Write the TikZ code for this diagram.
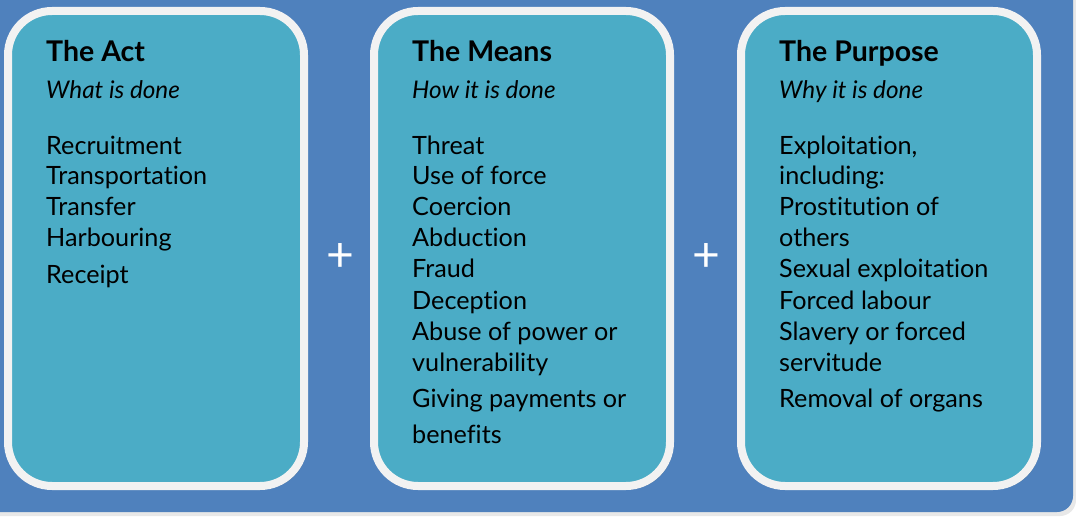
\documentclass[tikz,border=0pt]{standalone}
\usepackage{fontspec}
\setmainfont{Lato}[Ligatures=NoCommon]
\definecolor{bgblue}{HTML}{4F81BD}
\definecolor{teal}{HTML}{4BACC6}
\definecolor{rim}{HTML}{F2F2F2}
\definecolor{shade}{HTML}{3B6894}
\definecolor{paper}{HTML}{E8E8E8}
\tikzset{
  card/.style={fill=teal, draw=rim, line width=8pt, rounded corners=44pt},
  cardshadow/.style={fill=shade, rounded corners=44pt},
  ttl/.style={anchor=base west, inner sep=0pt, font=\fontsize{28.5}{32}\selectfont\bfseries},
  sub/.style={anchor=base west, inner sep=0pt, font=\fontsize{24.3}{28}\selectfont\itshape},
  item/.style={anchor=base west, inner sep=0pt, font=\fontsize{25.2}{30}\selectfont},
  plus/.style={text=white, inner sep=0pt, font=\fontsize{48}{48}\selectfont}
}
\begin{document}
\begin{tikzpicture}[x=1pt,y=-1pt]
\useasboundingbox (0,0) rectangle (1076,518);
\fill[white] (0,0) rectangle (1076,518);
\fill[paper, rounded corners=16pt] (-20,-20) -- (1076,-20) -- (1076,516) -- (-20,516) -- cycle;
\fill[bgblue] (-20,-20) -- (1073,-20) [rounded corners=16pt] -- (1073,512) [sharp corners] -- (-20,512) -- cycle;
% cards
\foreach \x in {8,374,741}{
  \fill[cardshadow] (\x+3,14) rectangle (\x+3+296,489);
  \draw[card] (\x,11) rectangle (\x+296,486);
}
\node[plus] (p1) at (340,258) {+};
\node[plus] (p2) at (706,258) {+};
% Act
\node[ttl] (a0) at (46,62) {The Act};
\node[sub] (a1) at (46,99) {What is done};
\node[item] (a2) at (46,155) {Recruitment};
\node[item] (a3) at (46,185) {Transportation};
\node[item] (a4) at (46,216) {Transfer};
\node[item] (a5) at (46,247) {Harbouring};
\node[item] (a6) at (46,284) {Receipt};
% Means
\node[ttl] (m0) at (412,62) {The Means};
\node[sub] (m1) at (412,99) {How it is done};
\node[item] (m2) at (412,155) {Threat};
\node[item] (m3) at (412,185) {Use of force};
\node[item] (m4) at (412,216) {Coercion};
\node[item] (m5) at (412,247) {Abduction};
\node[item] (m6) at (412,278) {Fraud};
\node[item] (m7) at (412,310) {Deception};
\node[item] (m8) at (412,341) {Abuse of power or};
\node[item] (m9) at (412,371) {vulnerability};
\node[item] (m10) at (412,407) {Giving payments or};
\node[item] (m11) at (412,443) {benefits};
% Purpose
\node[ttl] (u0) at (779,62) {The Purpose};
\node[sub] (u1) at (779,99) {Why it is done};
\node[item] (u2) at (779,155) {Exploitation,};
\node[item] (u3) at (779,185) {including:};
\node[item] (u4) at (779,216) {Prostitution of};
\node[item] (u5) at (779,247) {others};
\node[item] (u6) at (779,278) {Sexual exploitation};
\node[item] (u7) at (779,310) {Forced labour};
\node[item] (u8) at (779,341) {Slavery or forced};
\node[item] (u9) at (779,371) {servitude};
\node[item] (u10) at (779,407) {Removal of organs};
\end{tikzpicture}
\end{document}
